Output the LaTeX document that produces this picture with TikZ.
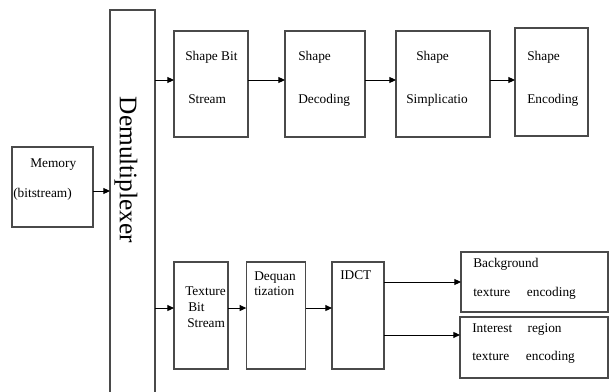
\documentclass[tikz,border=0pt]{standalone}
\usepackage{fontspec}
\setmainfont{Liberation Serif}
\usetikzlibrary{arrows.meta,calc}
\definecolor{Edge}{HTML}{4A4A4A}

\begin{document}
\begin{tikzpicture}[x=0.75pt, y=-0.75pt, every node/.style={font=\fontsize{10}{12}\selectfont},
  box/.style={draw=Edge, line width=.8pt, inner sep=0pt, outer sep=0pt},
  txt/.style={anchor=base west, inner sep=0pt},
  arr/.style={-{Triangle[length=5pt,width=4.5pt]}, line width=.7pt}]
\useasboundingbox (0,0) rectangle (613,392);

\node[box, minimum width=60.75pt, minimum height=60pt] (mem) at (52.5,187) {};
\node[inner sep=0pt, outer sep=0pt, minimum width=33.75pt, minimum height=286.5pt] (demux) at (132.5,201) {};
\draw[Edge, line width=.8pt] (demux.south west) |- (demux.north east) -- (demux.south east);
\node[rotate=-90, font=\fontsize{19}{22}\selectfont] (dmxtxt) at (126,170) {Demultiplexer};

\node[box, minimum width=55.5pt, minimum height=79.5pt] (sbs) at (211,84) {};
\node[box, minimum width=60pt, minimum height=79.5pt] (sdec) at (325,84) {};
\node[box, minimum width=70.5pt, minimum height=79.5pt] (ssimp) at (443,84) {};
\node[box, minimum width=54.75pt, minimum height=81pt] (senc) at (551.5,82) {};

\node[box, minimum width=40.5pt, minimum height=80.25pt] (tbs) at (201,315.5) {};
\node[box, minimum width=44.6pt, minimum height=80.25pt] (deq) at (276,315.5) {};
\node[box, minimum width=39pt, minimum height=80.25pt] (idct) at (358,315.5) {};
\node[box, minimum width=110.25pt, minimum height=45pt] (bg) at (534.5,282) {};
\node[box, minimum width=111pt, minimum height=45.75pt] (ir) at (534,347.5) {};

\node[txt] (memA) at (30,167) {Memory};
\node[txt] (memB) at (13,197) {(bitstream)};
\node[txt] (sbsA) at (185,61) {Shape Bit};
\node[txt] (sbsB) at (188,104) {Stream};
\node[txt] (sdecA) at (298,61) {Shape};
\node[txt] (sdecB) at (298,104) {Decoding};
\node[txt] (ssimpA) at (416,61) {Shape};
\node[txt] (ssimpB) at (406,104) {Simplicatio};
\node[txt] (sencA) at (527,61) {Shape};
\node[txt] (sencB) at (527,104) {Encoding};
\node[txt] (tbsA) at (185,295) {Texture};
\node[txt] (tbsB) at (188,311) {Bit};
\node[txt] (tbsC) at (187,327) {Stream};
\node[txt] (deqA) at (254,280) {Dequan};
\node[txt] (deqB) at (254,295) {tization};
\node[txt] (idctA) at (340,279) {IDCT};
\node[txt] (bgA) at (473,267) {Background};
\node[txt] (bgB) at (473,296) {texture\hspace{10pt} encoding};
\node[txt] (irA) at (472,332) {Interest\hspace{9pt} region};
\node[txt] (irB) at (472,360) {texture\hspace{10pt} encoding};

\coordinate (mrow) at ([yshift=-3pt]mem.east);
\coordinate (srow) at ([yshift=3pt]sbs.west);
\coordinate (trow) at ([yshift=5.6pt]tbs.west);
\coordinate (irin) at ([yshift=9.4pt]ir.west);

\draw[arr] (mrow) -- (mrow -| demux.west);
\draw[arr] (srow -| demux.east) -- (srow);
\foreach \a/\b in {sbs/sdec,sdec/ssimp,ssimp/senc}{\draw[arr] (srow -| \a.east) -- (srow -| \b.west);}
\draw[arr] (trow -| demux.east) -- (trow);
\foreach \a/\b in {tbs/deq,deq/idct}{\draw[arr] (trow -| \a.east) -- (trow -| \b.west);}
\draw[arr] (idct.east |- bg.west) -- (bg.west);
\draw[arr] (idct.east |- irin) -- (irin);
\end{tikzpicture}
\end{document}
